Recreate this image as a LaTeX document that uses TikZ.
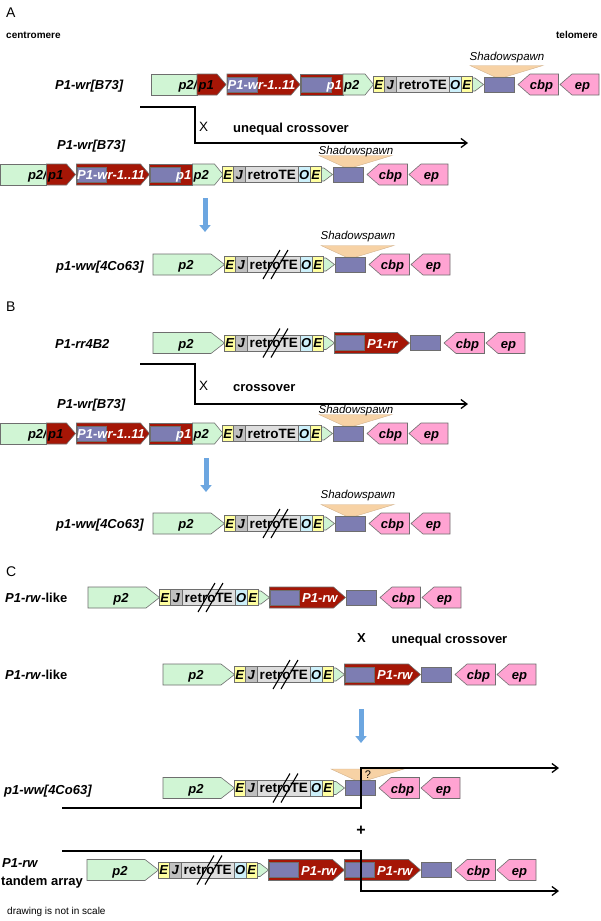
\documentclass[tikz,border=0pt]{standalone}
\usepackage{fontspec}
\setmainfont{Liberation Sans}
\usetikzlibrary{arrows.meta}
\definecolor{cgreen}{RGB}{208,245,212}
\definecolor{cred}{RGB}{165,22,6}
\definecolor{cblue}{RGB}{125,125,178}
\definecolor{cpink}{RGB}{255,163,210}
\definecolor{cyel}{RGB}{255,255,160}
\definecolor{cjgray}{RGB}{192,192,192}
\definecolor{cretro}{RGB}{222,222,222}
\definecolor{ccyan}{RGB}{205,240,250}
\definecolor{cpeach}{RGB}{247,210,165}
\definecolor{cborder}{RGB}{110,110,110}
\definecolor{arrowblue}{RGB}{108,166,224}
\tikzset{
  shp/.style={draw=cborder, line width=0.6pt},
  gene/.style={font=\fontsize{13}{15}\selectfont\bfseries\itshape, inner sep=0pt, anchor=base},
  wgene/.style={gene, text=white},
  retro/.style={font=\fontsize{13.5}{15}\selectfont\bfseries, inner sep=0pt, anchor=base},
  rowlbl/.style={font=\fontsize{13}{15}\selectfont\bfseries\itshape, inner sep=0pt, anchor=base west},
  boldlbl/.style={font=\fontsize{13}{15}\selectfont\bfseries, inner sep=0pt},
  plainlbl/.style={font=\fontsize{13.5}{15}\selectfont, inner sep=0pt},
  shadowtxt/.style={font=\fontsize{11.5}{13}\selectfont\itshape, inner sep=0pt},
  smalltxt/.style={font=\fontsize{10}{12}\selectfont, inner sep=0pt, anchor=west},
  smallbold/.style={font=\fontsize{10}{12}\selectfont\bfseries, inner sep=0pt},
  sectxt/.style={font=\fontsize{14}{16}\selectfont, inner sep=0pt, anchor=west},
  crossline/.style={line width=1.3pt, -{Straight Barb[length=6pt,width=9pt]}},
  bluearrow/.style={line width=5pt, draw=arrowblue, -{Triangle[length=7pt,width=11pt]}},
  slashline/.style={line width=1.1pt, black},
  wedgefill/.style={fill=cpeach, draw=cpeach!85!black, line width=0.4pt},
}
% rectangle: left, right, yc, half height, fill
\newcommand\mybox[5]{\filldraw[shp,fill=#5] (#1,#3-#4) rectangle (#2,#3+#4);}
% right pentagon: left, flat end, tip, yc, half height, fill
\newcommand\myrpent[6]{\filldraw[shp,fill=#6] (#1,#4-#5) -- (#2,#4-#5) -- (#3,#4) -- (#2,#4+#5) -- (#1,#4+#5) -- cycle;}
% left pentagon: tip, flat start, right, yc, half height, fill
\newcommand\mylpent[6]{\filldraw[shp,fill=#6] (#1,#4) -- (#2,#4-#5) -- (#3,#4-#5) -- (#3,#4+#5) -- (#2,#4+#5) -- cycle;}
% core: x0, yc, shift, prefix
\newcommand\mycore[4]{%
  \mybox{#1}{#1+11.5}{#2}{8}{cyel}
  \node[gene] (#4e1) at (#1+5.75,#2+4.7) {E};
  \mybox{#1+11.5}{#1+23}{#2}{8}{cjgray}
  \node[gene] (#4j) at (#1+17.25,#2+4.7) {J};
  \mybox{#1+23}{#1+76.5}{#2}{8}{cretro}
  \node[retro] (#4rt) at (#1+49.75,#2+4.8) {retroTE};
  \mybox{#1+76.5}{#1+88}{#2}{8}{ccyan}
  \node[gene] (#4o) at (#1+82.25,#2+4.7) {O};
  \mybox{#1+88}{#1+99.5}{#2}{8}{cyel}
  \node[gene] (#4e2) at (#1+93.75,#2+4.7) {E};
  \filldraw[shp,fill=cgreen] (#1+99.5,#2-6.5) -- (#1+102,#2-6.5) -- (#1+110.5,#2) -- (#1+102,#2+6.5) -- (#1+99.5,#2+6.5) -- cycle;
  \mybox{#1+111+#3}{#1+141+#3}{#2}{7.5}{cblue}
  \mylpent{#1+145+#3}{#1+157+#3}{#1+185.5+#3}{#2}{10.5}{cpink}
  \node[gene] (#4cbp) at (#1+168.5+#3,#2+5) {cbp};
  \mylpent{#1+187+#3}{#1+199+#3}{#1+226+#3}{#2}{10.5}{cpink}
  \node[gene] (#4ep) at (#1+209.5+#3,#2+5) {ep};
}
% A-type left block: left, yc, prefix
\newcommand\myablock[3]{%
  \mybox{#1}{#1+46}{#2}{10.5}{cgreen}
  \node[gene,anchor=base east] (#3a) at (#1+46.5,#2+5) {p2/};
  \myrpent{#1+46}{#1+66}{#1+75}{#2}{10.5}{cred}
  \node[gene,anchor=base west] (#3b) at (#1+47.5,#2+5) {p1};
  \myrpent{#1+76}{#1+140}{#1+149}{#2}{10.5}{cred}
  \mybox{#1+76.5}{#1+106}{#2}{7.5}{cblue}
  \node[wgene,anchor=base west] (#3c) at (#1+76.5,#2+5) {P1-wr-1..11};
  \mybox{#1+149}{#1+192}{#2}{10.5}{cred}
  \mybox{#1+150}{#1+180}{#2}{7.5}{cblue}
  \node[wgene,anchor=base east] (#3d) at (#1+191,#2+5) {p1};
  \myrpent{#1+192}{#1+214}{#1+222.5}{#2}{10.5}{cgreen}
  \node[gene,anchor=base west] (#3e) at (#1+193,#2+5) {p2};
}
% full p2: x0, yc, name
\newcommand\myptwo[3]{%
  \myrpent{#1-71}{#1-13}{#1+0.5}{#2}{10.5}{cgreen}
  \node[gene] (#3) at (#1-38,#2+5) {p2};
}
% insertion: left, yc, length, text, name
\newcommand\myins[5]{%
  \myrpent{#1}{#1+#3-12}{#1+#3}{#2}{10.5}{cred}
  \mybox{#1+0.5}{#1+30}{#2}{7.5}{cblue}
  \node[wgene,anchor=base west] (#5) at (#1+32.5,#2+5) {#4};
}
% wedge: x0, yc
\newcommand\mywedge[2]{%
  \filldraw[wedgefill] (#1+97,#2-19) -- (#1+170,#2-19) -- (#1+132,#2-7.5) -- (#1+122,#2-7.5) -- cycle;
}
% slashes: x0, yc
\newcommand\myslash[2]{%
  \draw[slashline] (#1+39,#2+14.5) -- (#1+56,#2-14.5) (#1+47,#2+14.5) -- (#1+64,#2-14.5);
}

\begin{document}
\begin{tikzpicture}[x=1pt,y=-1pt]
\useasboundingbox (0,0) rectangle (600,921);
\fill[white] (0,0) rectangle (600,921);

% ---------------- A ----------------
\node[sectxt] (secA) at (6,13) {A};
\node[smallbold,anchor=west] (cen) at (6,35) {centromere};
\node[smallbold,anchor=east] (tel) at (598,35) {telomere};

% A1
\node[rowlbl] (lA1) at (55,89.5) {P1-wr[B73]};
\mywedge{373}{84.5}
\node[shadowtxt] (sA1) at (507,57.5) {Shadowspawn};
\myablock{151}{84.5}{bA1}
\mycore{373}{84.5}{0}{cA1}

% A2
\node[rowlbl] (lA2) at (57,149) {P1-wr[B73]};
\mywedge{222}{174.5}
\node[shadowtxt] (sA2) at (356,152) {Shadowspawn};
\myablock{0.5}{174.5}{bA2}
\mycore{222}{174.5}{0}{cA2}

% crossover A
\coordinate (xa1) at (140,107);
\coordinate (xa3) at (195,143);
\coordinate (xa4) at (468,143);
\draw[crossline] (xa1) -| (xa3) -- (xa4);
\node[plainlbl] (xA) at (203.5,127) {X};
\node[boldlbl,anchor=base west] (ucA) at (233,132) {unequal crossover};

% arrow A
\coordinate (aA1) at (205,198);
\coordinate (aA2) at (205,232);
\draw[bluearrow] (aA1) -- (aA2);

% A3
\node[rowlbl] (lA3) at (56,270) {p1-ww[4Co63]};
\mywedge{224}{264.5}
\node[shadowtxt] (sA3) at (358,237) {Shadowspawn};
\myptwo{224}{264.5}{pA3}
\mycore{224}{264.5}{0}{cA3}
\myslash{224}{264.5}

% ---------------- B ----------------
\node[sectxt] (secB) at (6,307) {B};

% B1
\node[rowlbl] (lB1) at (55,348.5) {P1-rr4B2};
\myptwo{224}{343}{pB1}
\mycore{224}{343}{75}{cB1}
\myins{334.5}{343}{75}{P1-rr}{iB1}
\myslash{224}{343}

% B2
\node[rowlbl] (lB2) at (57,408) {P1-wr[B73]};
\mywedge{222}{433.5}
\node[shadowtxt] (sB2) at (356,411) {Shadowspawn};
\myablock{0.5}{433.5}{bB2}
\mycore{222}{433.5}{0}{cB2}

% crossover B
\coordinate (xb1) at (140,364);
\coordinate (xb3) at (195,404);
\coordinate (xb4) at (468,404);
\draw[crossline] (xb1) -| (xb3) -- (xb4);
\node[plainlbl] (xB) at (203.5,386) {X};
\node[boldlbl,anchor=base west] (coB) at (233,391) {crossover};

% arrow B
\coordinate (aB1) at (206,458);
\coordinate (aB2) at (206,492);
\draw[bluearrow] (aB1) -- (aB2);

% B3
\node[rowlbl] (lB3) at (56,528.5) {p1-ww[4Co63]};
\mywedge{224}{523.5}
\node[shadowtxt] (sB3) at (358,496) {Shadowspawn};
\myptwo{224}{523.5}{pB3}
\mycore{224}{523.5}{0}{cB3}
\myslash{224}{523.5}

% ---------------- C ----------------
\node[sectxt] (secC) at (6,572) {C};

% C1
\node[rowlbl] (lC1) at (5,602.5) {P1-rw\textup{-like}};
\myptwo{159}{597.5}{pC1}
\mycore{159}{597.5}{76}{cC1}
\myins{269.5}{597.5}{76}{P1-rw}{iC1}
\myslash{159}{597.5}

\node[boldlbl] (xC) at (361.5,638) {X};
\node[boldlbl,anchor=base west] (ucC) at (391.5,643) {unequal crossover};

% C2
\node[rowlbl] (lC2) at (5,679.5) {P1-rw\textup{-like}};
\myptwo{234}{674.5}{pC2}
\mycore{234}{674.5}{76}{cC2}
\myins{344.5}{674.5}{76}{P1-rw}{iC2}
\myslash{234}{674.5}

% arrow C
\coordinate (aC1) at (361,709);
\coordinate (aC2) at (361,743);
\draw[bluearrow] (aC1) -- (aC2);

% C3
\node[rowlbl] (lC3) at (4,794) {p1-ww[4Co63]};
\mywedge{234}{788}
\node[font=\fontsize{11}{13}\selectfont, inner sep=0pt] (qC3) at (368,775) {?};
\myptwo{234}{788}{pC3}
\mycore{234}{788}{0}{cC3}
\myslash{234}{788}

\node[font=\fontsize{16}{18}\selectfont\bfseries, inner sep=0pt] (plusC) at (361,831) {+};

% C4
\node[rowlbl] (lC4a) at (2,867) {P1-rw};
\node[boldlbl,anchor=base west] (lC4b) at (1,885) {tandem array};
\myptwo{158}{870}{pC4}
\mycore{158}{870}{152}{cC4}
\myins{268.5}{870}{76}{P1-rw}{iC4a}
\myins{344.5}{870}{76}{P1-rw}{iC4b}
\myslash{158}{870}

% crossover C
\coordinate (xc1) at (62,808);
\coordinate (xc2) at (361,768);
\coordinate (xc3) at (559,768);
\draw[crossline] (xc1) -| (xc2) -- (xc3);
\coordinate (xd1) at (62,851);
\coordinate (xd2) at (361,891);
\coordinate (xd3) at (559,891);
\draw[crossline] (xd1) -| (xd2) -- (xd3);

\node[smalltxt] (note) at (7,912) {drawing is not in scale};
\end{tikzpicture}
\end{document}
